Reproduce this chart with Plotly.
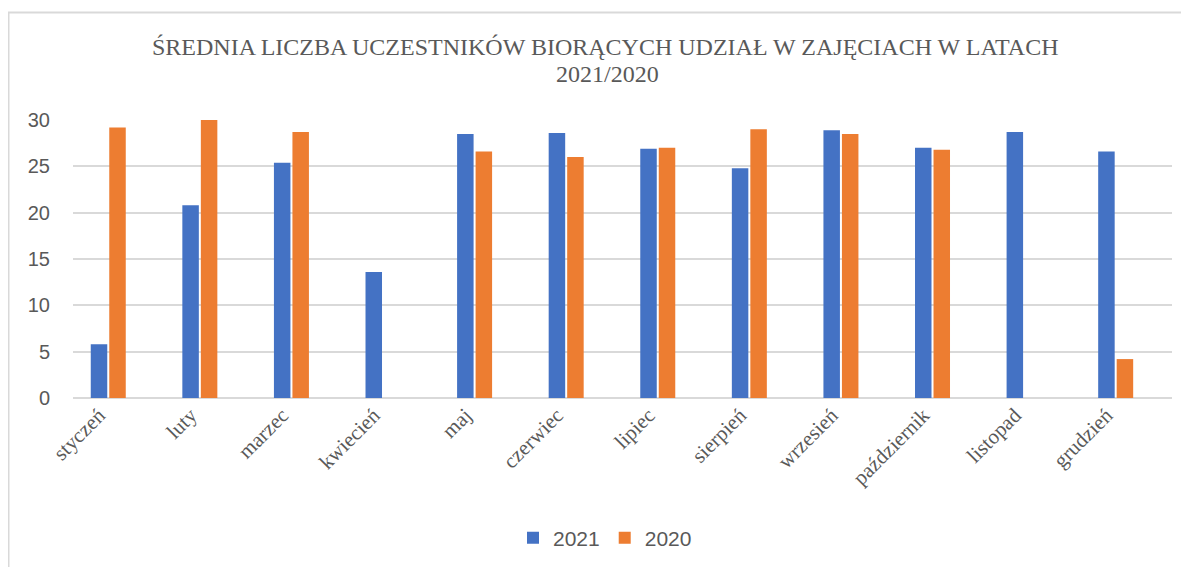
import plotly.graph_objects as go

months = ["styczeń", "luty", "marzec", "kwiecień", "maj", "czerwiec",
          "lipiec", "sierpień", "wrzesień", "październik", "listopad", "grudzień"]
values_2021 = [5.8, 20.8, 25.4, 13.6, 28.5, 28.6, 26.9, 24.8, 28.9, 27.0, 28.7, 26.6]
values_2020 = [29.2, 30.0, 28.7, None, 26.6, 26.0, 27.0, 29.0, 28.5, 26.8, None, 4.2]
series_names = ["2021", "2020"]
y_ticks = [0, 5, 10, 15, 20, 25, 30]
title_line1 = "ŚREDNIA LICZBA UCZESTNIKÓW BIORĄCYCH UDZIAŁ W ZAJĘCIACH W LATACH"
title_line2 = "2021/2020"

OFF = 8  # page body margin
W, H = 1189 - OFF, 567 - OFF
SL, SR, ST, SB = 73, 1172, 120, 398
L, T = SL - OFF, ST - OFF
R, B = W - (SR - OFF), H - (SB - OFF)
pw, ph = W - L - R, H - T - B

def px_x(x):
    return (x - SL) / pw

def px_y(y):
    return (SB - y) / ph

grey = "#595959"
grid = "#d9d9d9"

idx = list(range(len(months)))

fig = go.Figure()
fig.add_trace(go.Bar(x=idx, y=values_2021, name=series_names[0], hovertext=months,
                     marker=dict(color="#4472C4", line=dict(width=0))))
fig.add_trace(go.Bar(x=idx, y=values_2020, name=series_names[1], hovertext=months,
                     marker=dict(color="#ED7D31", line=dict(width=0))))

fig.update_layout(
    width=W, height=H,
    margin=dict(l=L, r=R, t=T, b=B, autoexpand=False),
    paper_bgcolor="white", plot_bgcolor="white",
    barmode="group", bargap=0.596, bargroupgap=0.108,
    showlegend=True,
    legend=dict(orientation="h", x=px_x(605), xanchor="center",
                y=px_y(538), yanchor="middle",
                font=dict(family="Liberation Sans", size=21, color=grey),
                itemwidth=30, tracegroupgap=0),
    xaxis=dict(range=[-0.385, 11.615], showgrid=False, showline=False, zeroline=False,
               tickmode="array", tickvals=[i - 0.1 for i in idx], ticktext=months,
               ticks="", tickangle=-45,
               tickfont=dict(family="Liberation Serif", size=21, color=grey)),
    yaxis=dict(range=[0, 30], tickvals=y_ticks, showgrid=True, gridcolor=grid,
               gridwidth=1.5, zeroline=True, zerolinecolor=grid, zerolinewidth=1.5,
               showline=False, ticks="", ticklabelstandoff=22,
               tickfont=dict(family="Liberation Sans", size=20, color=grey)),
    annotations=[
        dict(text=title_line1, xref="paper", yref="paper",
             x=px_x(605), y=px_y(47), xanchor="center", yanchor="middle",
             showarrow=False,
             font=dict(family="Liberation Serif", size=24, color=grey)),
        dict(text=title_line2, xref="paper", yref="paper",
             x=px_x(607), y=px_y(74), xanchor="center", yanchor="middle",
             showarrow=False,
             font=dict(family="Liberation Serif", size=24, color=grey)),
    ],
    shapes=[dict(type="path", xref="paper", yref="paper",
                 path=f"M {px_x(8.5)} {px_y(600)} L {px_x(8.5)} {px_y(12.5)} L {px_x(1220)} {px_y(12.5)}",
                 line=dict(color=grid, width=2), layer="below")],
)

fig.write_html("out.html")
